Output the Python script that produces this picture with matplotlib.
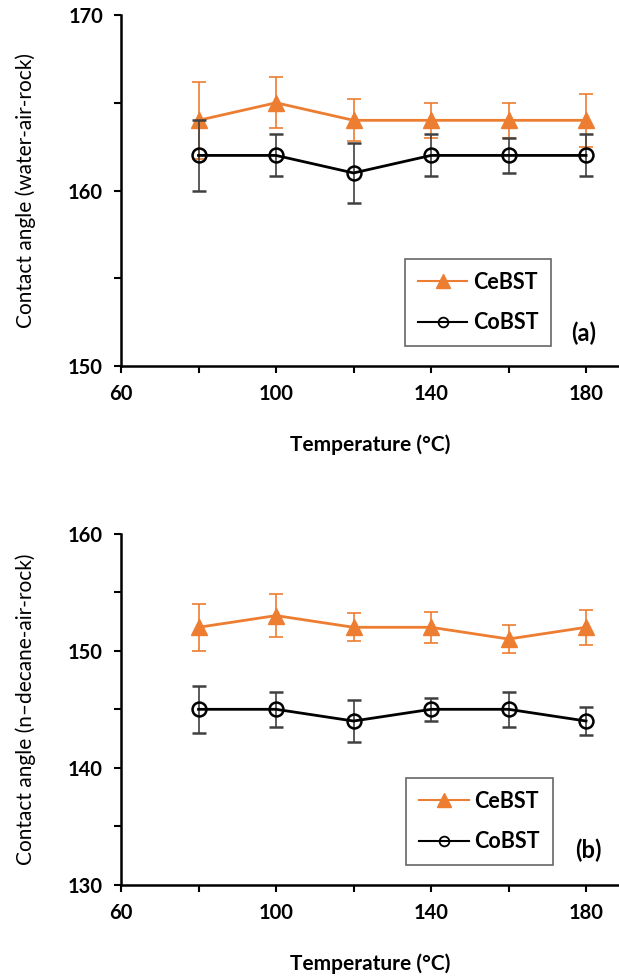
import matplotlib
matplotlib.use("Agg")
import matplotlib.pyplot as plt
from matplotlib.lines import Line2D
from matplotlib.ticker import MultipleLocator

plt.rcParams['font.family'] = ['Lato', 'DejaVu Sans']

temp = [80, 100, 120, 140, 160, 180]

# (a) water-air-rock
ce_a = [164, 165, 164, 164, 164, 164]
ce_a_err = [2.2, 1.45, 1.2, 1.0, 1.0, 1.5]
co_a = [162, 162, 161, 162, 162, 162]
co_a_err = [2.0, 1.2, 1.7, 1.2, 1.0, 1.2]

# (b) n-decane-air-rock
ce_b = [152, 153, 152, 152, 151, 152]
ce_b_err = [2.0, 1.8, 1.2, 1.3, 1.2, 1.5]
co_b = [145, 145, 144, 145, 145, 144]
co_b_err = [2.0, 1.5, 1.8, 1.0, 1.5, 1.2]

orange = '#ED7D31'

fig = plt.figure(figsize=(6.19, 9.76), dpi=100)
ax1 = fig.add_axes([0.1955, 0.625, 0.8045, 0.3596])
ax2 = fig.add_axes([0.1955, 0.0932, 0.8045, 0.3601])


def draw(ax, ce, ce_err, co, co_err, ylim, ylabel, tag, leg_anchor, tag_pos):
    ax.errorbar(temp, ce, yerr=ce_err, color=orange, lw=2, marker='^', ms=12,
                ecolor=orange, elinewidth=1.2, capsize=5, capthick=1.2, zorder=3)
    ax.errorbar(temp, co, yerr=co_err, color='black', lw=2, marker='o', ms=10,
                mfc='none', mec='black', mew=1.8, ecolor='#404040',
                elinewidth=1.2, capsize=5, capthick=1.2, zorder=4)
    ax.set_xlim(60, 188.5)
    ax.set_ylim(*ylim)
    ax.xaxis.set_major_locator(MultipleLocator(40, offset=20))
    ax.xaxis.set_minor_locator(MultipleLocator(20))
    ax.yaxis.set_major_locator(MultipleLocator(10))
    ax.yaxis.set_minor_locator(MultipleLocator(5))
    for s in ['top', 'right']:
        ax.spines[s].set_visible(False)
    for s in ['left', 'bottom']:
        ax.spines[s].set_linewidth(1.8)
    ax.tick_params(which='both', direction='out', width=1.5, labelsize=14.5, pad=8)
    ax.tick_params(which='both', length=5)
    for t in ax.get_xticklabels() + ax.get_yticklabels():
        t.set_fontweight('bold')
    ax.set_xlabel('Temperature (°C)', fontsize=15, fontweight='bold')
    ax.xaxis.set_label_coords(0.5, -0.195)
    ax.set_ylabel(ylabel, fontsize=15)
    ax.yaxis.set_label_coords(-0.17, 0.5)
    handles = [
        Line2D([], [], color=orange, lw=1.5, marker='^', ms=10),
        Line2D([], [], color='black', lw=1.5, marker='o', ms=7, mfc='none', mew=1.3),
    ]
    leg = ax.legend(handles, ['CeBST', 'CoBST'], loc='lower left',
                    bbox_to_anchor=leg_anchor, borderaxespad=0,
                    fancybox=False, edgecolor='#404040',
                    handlelength=2.3, labelspacing=0.9, borderpad=0.6,
                    handletextpad=0.25, prop={'weight': 'bold', 'size': 15.5})
    leg.get_frame().set_linewidth(1.2)
    ax.text(tag_pos[0], tag_pos[1], tag, transform=ax.transAxes, fontsize=17,
            fontweight='bold', ha='center', va='center')


draw(ax1, ce_a, ce_a_err, co_a, co_a_err, (150, 170),
     'Contact angle (water-air-rock)', '(a)', (0.57, 0.057), (0.928, 0.094))
draw(ax2, ce_b, ce_b_err, co_b, co_b_err, (130, 160),
     'Contact angle (n\u2013decane-air-rock)', '(b)', (0.573, 0.057), (0.938, 0.10))

fig.savefig('out.png', dpi=100)
